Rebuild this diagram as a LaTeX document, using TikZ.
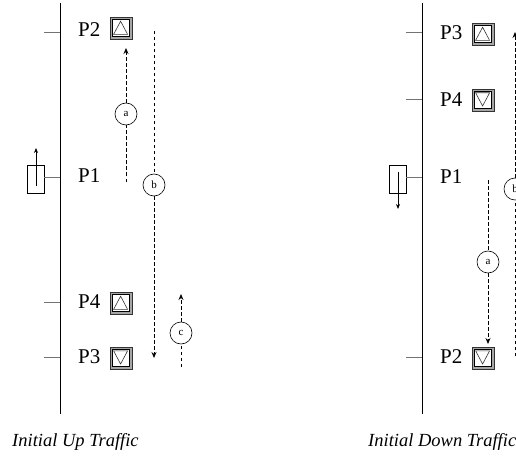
\documentclass[tikz,border=0pt]{standalone}
\usepackage{fontspec}
\setmainfont{Liberation Serif}
\usetikzlibrary{arrows.meta}
\tikzset{
  shaft/.style={line width=1pt},
  tickline/.style={draw=black!55, line width=1pt},
  plabel/.style={font=\fontsize{21}{21}\selectfont, inner sep=0pt, anchor=west},
  btnbase/.style={rectangle, minimum size=22pt, inner sep=0pt, draw=black!80, fill=black!35, line width=0.7pt},
  btnup/.style={btnbase, path picture={
      \path[fill=white,draw=black,line width=0.6pt] ([shift={(2.2pt,-2.2pt)}]path picture bounding box.north west) rectangle ([shift={(-3pt,3pt)}]path picture bounding box.south east);
      \draw[line width=0.6pt,line join=miter] ([shift={(-0.4pt,6.8pt)}]path picture bounding box.center) -- ++(-7pt,-13.2pt) -- ++(14pt,0pt) -- cycle;}},
  btndown/.style={btnbase, path picture={
      \path[fill=white,draw=black,line width=0.6pt] ([shift={(2.2pt,-2.2pt)}]path picture bounding box.north west) rectangle ([shift={(-3pt,3pt)}]path picture bounding box.south east);
      \draw[line width=0.6pt,line join=miter] ([shift={(-0.4pt,-6.0pt)}]path picture bounding box.center) -- ++(-7pt,13.2pt) -- ++(14pt,0pt) -- cycle;}},
  flow/.style={dash pattern=on 3.5pt off 2.5pt, line width=0.8pt},
  tip/.style={-{Stealth[length=6pt,width=5pt]}},
  tag/.style={circle, draw, line width=0.6pt, minimum size=22pt, inner sep=0pt, fill=white, font=\fontsize{11}{11}\selectfont},
  car/.style={rectangle, draw, line width=0.7pt, minimum width=17pt, minimum height=28pt, inner sep=0pt},
  carline/.style={line width=0.8pt, -{Stealth[length=5pt,width=4pt]}},
  caption/.style={font=\itshape\fontsize{18.5}{18.5}\selectfont, inner sep=0pt, anchor=west}
}
\begin{document}
\begin{tikzpicture}[x=1pt,y=-1pt]
\clip (0,0) rectangle (516,457);
\useasboundingbox (0,0) rectangle (516,457);

% ---------- Left panel: Initial Up Traffic ----------
\coordinate (Ltop) at (60,3);
\coordinate (Lbot) at (60,414);
\draw[shaft] (Ltop) -- (Lbot);

\coordinate (Lt2a) at (44,33);  \coordinate (Lt2b) at (60,33);
\coordinate (Lt4a) at (44,302); \coordinate (Lt4b) at (60,302);
\coordinate (Lt3a) at (44,357); \coordinate (Lt3b) at (60,357);
\draw[tickline] (Lt2a) -- (Lt2b);
\draw[tickline] (Lt4a) -- (Lt4b);
\draw[tickline] (Lt3a) -- (Lt3b);

\node[plabel] (LP2) at (78,30) {P2};
\node[plabel] (LP1) at (78,176) {P1};
\node[plabel] (LP4) at (78,302) {P4};
\node[plabel] (LP3) at (78,357) {P3};
\node[btnup]   (LB2) at (121,28) {};
\node[btnup]   (LB4) at (121,303) {};
\node[btndown] (LB3) at (121,358) {};

\node[car] (Lcar) at (35.5,179) {};
\coordinate (Lcarc) at (60,177);
\draw[tickline] (Lcar.east |- Lcarc) -- (Lcarc);
\coordinate (Lca1) at (36,186);
\coordinate (Lca2) at (36,148);
\draw[carline] (Lca1) -- (Lca2);

% flow a
\coordinate (La1) at (126,182);
\coordinate (La2) at (126,48);
\node[tag] (LTa) at (126,114) {a};
\draw[flow] (La1) -- (LTa);
\draw[flow,tip] (LTa) -- (La2);
% flow b
\coordinate (Lb1) at (154,31);
\coordinate (Lb2) at (154,358);
\node[tag] (LTb) at (154,185) {b};
\draw[flow] (Lb1) -- (LTb);
\draw[flow,tip] (LTb) -- (Lb2);
% flow c
\coordinate (Lc1) at (181,367);
\coordinate (Lc2) at (181,294);
\node[tag] (LTc) at (181,333) {c};
\draw[flow] (Lc1) -- (LTc);
\draw[flow,tip] (LTc) -- (Lc2);

\node[caption] (Lcap) at (12,442) {Initial Up Traffic};

% ---------- Right panel: Initial Down Traffic ----------
\coordinate (Rtop) at (422,3);
\coordinate (Rbot) at (422,414);
\draw[shaft] (Rtop) -- (Rbot);

\coordinate (Rt3a) at (406,33);  \coordinate (Rt3b) at (422,33);
\coordinate (Rt4a) at (406,100); \coordinate (Rt4b) at (422,100);
\coordinate (Rt2a) at (406,357); \coordinate (Rt2b) at (422,357);
\draw[tickline] (Rt3a) -- (Rt3b);
\draw[tickline] (Rt4a) -- (Rt4b);
\draw[tickline] (Rt2a) -- (Rt2b);

\node[plabel] (RP3) at (440,33) {P3};
\node[plabel] (RP4) at (440,100) {P4};
\node[plabel] (RP1) at (440,177) {P1};
\node[plabel] (RP2) at (440,357) {P2};
\node[btnup]   (RB3) at (483,34) {};
\node[btndown] (RB4) at (483,100) {};
\node[btndown] (RB2) at (483,358) {};

\node[car] (Rcar) at (397.5,179) {};
\coordinate (Rcarc) at (422,177);
\draw[tickline] (Rcar.east |- Rcarc) -- (Rcarc);
\coordinate (Rca1) at (398,172);
\coordinate (Rca2) at (398,209);
\draw[carline] (Rca1) -- (Rca2);

% flow a
\coordinate (Ra1) at (488,180);
\coordinate (Ra2) at (488,344);
\node[tag] (RTa) at (488,262) {a};
\draw[flow] (Ra1) -- (RTa);
\draw[flow,tip] (RTa) -- (Ra2);
% flow b
\coordinate (Rb1) at (515,356);
\coordinate (Rb2) at (515,32);
\node[tag] (RTb) at (515,189) {b};
\draw[flow] (Rb1) -- (RTb);
\draw[flow,tip] (RTb) -- (Rb2);

\node[caption] (Rcap) at (368,442) {Initial Down Traffic};
\end{tikzpicture}
\end{document}
